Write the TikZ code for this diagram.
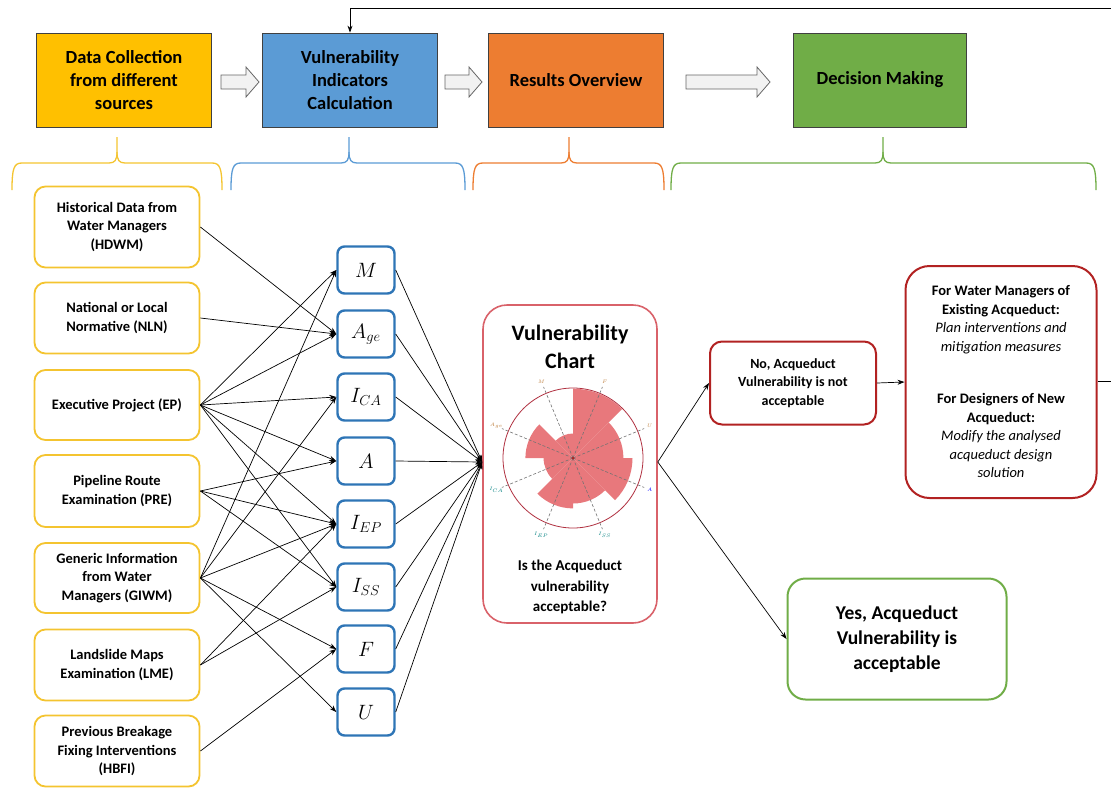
\documentclass[tikz,border=0pt]{standalone}
\usepackage{fontspec}
\setmainfont{Carlito}
\usetikzlibrary{arrows.meta}
\definecolor{cyel}{HTML}{FFC000}
\definecolor{cblue}{HTML}{5B9BD5}
\definecolor{corange}{HTML}{ED7D31}
\definecolor{cgreen}{HTML}{70AD47}
\definecolor{srcyel}{HTML}{F4C430}
\definecolor{indblue}{HTML}{2E75B6}
\definecolor{chartred}{HTML}{D9626A}
\definecolor{darkred}{HTML}{B22222}
\definecolor{rosefill}{HTML}{E8787C}
\definecolor{rosecirc}{HTML}{B03040}
\definecolor{bracegreen}{HTML}{70AD47}
\begin{document}
\begin{tikzpicture}[x=1pt,y=-1pt,
  topbox/.style={draw=black!75, line width=0.8pt, minimum width=175pt, minimum height=94pt, align=center, inner sep=2pt, font=\fontsize{18.5}{23}\selectfont\bfseries},
  src/.style={draw=srcyel, line width=1.8pt, rounded corners=11pt, fill=white, minimum width=165pt, align=center, inner sep=2pt, font=\fontsize{14.5}{18.5}\selectfont\bfseries},
  ind/.style={draw=indblue, line width=2.4pt, rounded corners=7pt, fill=white, minimum width=57pt, minimum height=47pt, inner sep=0pt, font=\fontsize{22}{24}\selectfont},
  conn/.style={black, line width=0.7pt, -{Stealth[length=7pt,width=5pt]}},
  hollow/.style={draw=black!60, fill=black!5, line width=0.8pt},
  brace/.style={line width=1.3pt},
  redbox/.style={draw=darkred, line width=2pt, fill=white, align=center, inner sep=2pt},
]
\useasboundingbox (0,0) rectangle (1111,788);

% ---- top row
\node[topbox, fill=cyel] (dc) at (124,80) {Data Collection\\from different\\sources};
\node[topbox, fill=cblue] (vic) at (350,80) {Vulnerability\\Indicators\\Calculation};
\node[topbox, fill=corange] (ro) at (576,80) {Results Overview};
\node[topbox, fill=cgreen, minimum width=173pt] (dm) at (880,80) {Decision Making};

% hollow arrows
\foreach \xa/\xb in {221/259, 445/482, 686/770}{
  \draw[hollow] (\xa,75) -- (\xb-13,75) -- (\xb-13,67) -- (\xb,82) -- (\xb-13,97) -- (\xb-13,89) -- (\xa,89) -- cycle;
}

% feedback
\coordinate (fbtop) at (1111,8);
\draw[line width=0.8pt, -{Stealth[length=7pt,width=5pt]}] (fbtop) -| (vic.north);

% ---- braces
\foreach \xa/\tip/\xb/\col in {12/117/222/srcyel, 231/349/465/cblue, 473/569/664/corange, 671/883/1096/bracegreen}{
  \draw[brace, draw=\col] (\xa,190) .. controls (\xa,168) and (\xa+2,163) .. (\xa+10,163) -- (\tip-8,163) .. controls (\tip-2,163) and (\tip,160) .. (\tip,152) -- (\tip,137);
  \draw[brace, draw=\col] (\xb,190) .. controls (\xb,168) and (\xb-2,163) .. (\xb-10,163) -- (\tip+8,163) .. controls (\tip+2,163) and (\tip,160) .. (\tip,152);
}

% ---- sources
\node[src, minimum height=81pt] (hdwm) at (117,227) {Historical Data from\\Water Managers\\(HDWM)};
\node[src, minimum height=71pt] (nln) at (117,318) {National or Local\\Normative (NLN)};
\node[src, minimum height=70pt] (ep) at (117,405) {Executive Project (EP)};
\node[src, minimum height=72pt] (pre) at (117,491) {Pipeline Route\\Examination (PRE)};
\node[src, minimum height=70pt] (giwm) at (117,578) {Generic Information\\from Water\\Managers (GIWM)};
\node[src, minimum height=71pt] (lme) at (117,665) {Landslide Maps\\Examination (LME)};
\node[src, minimum height=71pt] (hbfi) at (117,751) {Previous Breakage\\Fixing Interventions\\(HBFI)};

% ---- indicators
\node[ind] (im) at (366,270) {$M$};
\node[ind] (iage) at (366,334) {$A_{ge}$};
\node[ind] (ica) at (366,397) {$I_{CA}$};
\node[ind] (ia) at (366,461) {$A$};
\node[ind] (iep) at (366,524) {$I_{EP}$};
\node[ind] (iss) at (366,587) {$I_{SS}$};
\node[ind] (ifa) at (366,649) {$F$};
\node[ind] (iu) at (366,712) {$U$};

% ---- source -> indicator connectors
\foreach \s/\t in {hdwm/iage, nln/iage,
  ep/im, ep/iage, ep/ica, ep/ia, ep/iep, ep/iss,
  pre/ia, pre/iep, pre/iss,
  giwm/im, giwm/ica, giwm/iep, giwm/ifa, giwm/iu,
  lme/iep, lme/iss,
  hbfi/ifa}{
  \draw[conn] (\s.east) -- (\t.west);
}

% ---- chart box
\node[draw=chartred, line width=1.6pt, rounded corners=24pt, minimum width=174pt, minimum height=318pt, fill=white] (chart) at (570,464) {};
\node[font=\fontsize{22}{28}\selectfont\bfseries, align=center] (ctitle) at (570,347) {Vulnerability\\Chart};
\node[font=\fontsize{15}{20.5}\selectfont\bfseries, align=center] (cq) at (570,587) {Is the Acqueduct\\vulnerability\\acceptable?};
\coordinate (cin) at (chart.west |- 0,462);
\coordinate (cout) at (chart.east |- 0,462);

\foreach \t in {im,iage,ica,ia,iep,iss,ifa,iu}{
  \draw[conn] (\t.east) -- (cin);
}

% rose chart
\begin{scope}[shift={(573,458)}, yscale=-1]
  \foreach \a/\f in {45/0.99, 0/0.72, -45/0.85, -90/0.65, -135/0.72, -180/0.42, 135/0.68, 90/0.35}{
    \fill[rosefill] (0,0) -- (\a:70*\f) arc[start angle=\a, end angle=\a+45, radius=70*\f] -- cycle;
  }
  \draw[rosecirc, line width=0.8pt] (0,0) circle[radius=70];
  \foreach \a in {22.5,67.5,112.5,157.5,202.5,247.5,292.5,337.5}{
    \draw[black!55, dash pattern=on 3pt off 2pt, line width=0.6pt] (0,0) -- (\a:77);
  }
  \foreach \a/\l/\c in {112.5/M/brown, 67.5/F/brown, 22.5/U/brown, -22.5/A/blue, -67.5/I_{SS}/teal, -112.5/I_{EP}/teal, -157.5/I_{CA}/teal, 157.5/A_{ge}/brown}{
    \node[text=\c, font=\fontsize{4}{4}\selectfont, inner sep=0pt] at (\a:83) {$\l$};
  }
  \fill[darkred] (0,0) circle[radius=1.5];
\end{scope}

% ---- decision boxes
\node[redbox, rounded corners=12pt, minimum width=166pt, minimum height=83pt, font=\fontsize{14}{18.5}\selectfont\bfseries] (no) at (793,383) {No, Acqueduct\\Vulnerability is not\\acceptable};
\node[redbox, rounded corners=24pt, minimum width=191pt, minimum height=232pt, font=\fontsize{14.5}{18.5}\selectfont] (big) at (1001,382) {%
{\bfseries For Water Managers of}\\
{\bfseries Existing Acqueduct:}\\
{\itshape Plan interventions and}\\
{\itshape mitigation measures}\\[34pt]
{\bfseries For Designers of New}\\
{\bfseries Acqueduct:}\\
{\itshape Modify the analysed}\\
{\itshape acqueduct design}\\
{\itshape solution}};
\node[draw=cgreen, line width=2pt, rounded corners=18pt, fill=white, minimum width=219pt, minimum height=121pt, align=center, font=\fontsize{19.5}{25}\selectfont\bfseries] (yes) at (897,639) {Yes, Acqueduct\\Vulnerability is\\acceptable};

\draw[conn] (cout) -- (no.west);
\draw[conn] (cout) -- (yes.west);
\draw[conn] (no.east) -- (big.west);
\coordinate (fbright) at (1111,381);
\draw[line width=0.8pt] (big.east |- fbright) -- (fbright);

\end{tikzpicture}
\end{document}
